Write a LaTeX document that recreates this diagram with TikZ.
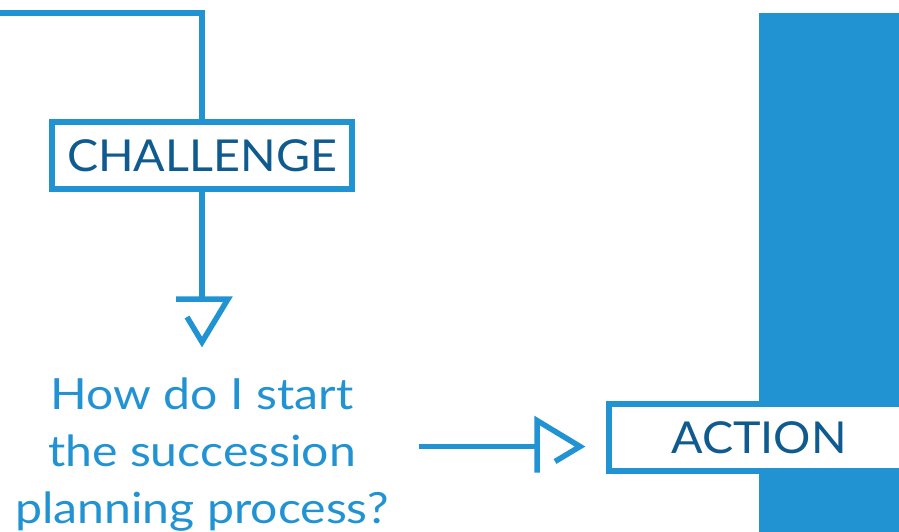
\documentclass[tikz,border=0pt]{standalone}
\usepackage{fontspec}
\setmainfont{Lato}
\newfontfamily\tagfont[FakeStretch=1.06]{Lato}
\newfontfamily\askfont[FakeStretch=1.12]{Lato}
\usetikzlibrary{positioning}

\definecolor{lineblue}{HTML}{2293D2}
\definecolor{textnavy}{HTML}{0F5A8E}

\tikzset{
  flow/.style={draw=lineblue, line width=5.5pt},
  tagbox/.style={draw=lineblue, line width=5.5pt, fill=white, inner sep=0pt,
    minimum width=300pt, minimum height=67pt, text=textnavy,
    font=\tagfont\fontsize{44}{44}\selectfont}
}

\begin{document}
\begin{tikzpicture}[x=1pt,y=-1pt]
  \useasboundingbox (0,0) rectangle (899,531);
  % right hand band
  \fill[lineblue] (759,13) rectangle (910,540);

  \node[tagbox] (challenge) at (202,155.5) {CHALLENGE};
  \node[tagbox] (action) at (759,437.5) {ACTION};
  \node[text=lineblue, align=center, inner sep=0pt,
    font=\askfont\fontsize{43}{57}\selectfont] (question) at (202,455)
    {How do I start\\the succession\\planning process?};

  \coordinate (lead) at (0,13);
  \coordinate (tipv) at (202,299);
  \coordinate (qout) at (419,446.5);
  \coordinate (tiph) at (537,446.5);

  \draw[flow] (lead) -| (challenge.north);
  \draw[flow] (challenge.south) -- (tipv);
  \draw[flow] ([xshift=-26pt]tipv) -- ([xshift=26pt]tipv) -- ++(-26,43) -- ++(-15,-25);
  \draw[flow] (qout) -- (tiph);
  \draw[flow] ([yshift=-26pt]tiph) -- ([yshift=26pt]tiph) -- ++(43,26) -- ++(-25,15);
\end{tikzpicture}
\end{document}
